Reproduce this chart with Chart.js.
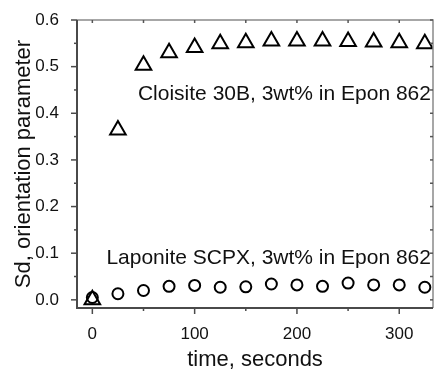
<!DOCTYPE html>
<html>
<head>
<meta charset="utf-8">
<script src="https://cdn.jsdelivr.net/npm/chart.js@4/dist/chart.umd.min.js"></script>
<style>
  html, body { margin: 0; padding: 0; background: #fff; }
  #wrap { width: 435px; height: 369px; }
</style>
</head>
<body>
<div id="wrap"><canvas id="chart" width="435" height="369"></canvas></div>
<script>
// ----- data -----
const timeSeconds = [0, 25, 50, 75, 100, 125, 150, 175, 200, 225, 250, 275, 300, 325];
const cloisite = [0, 0.364, 0.503, 0.530, 0.541, 0.549, 0.551, 0.555, 0.555, 0.555, 0.554, 0.553, 0.551, 0.549];
const laponite = [0.005, 0.013, 0.020, 0.029, 0.031, 0.027, 0.028, 0.034, 0.032, 0.029, 0.036, 0.032, 0.032, 0.027];

const xTicks = [0, 100, 200, 300];
const xMinorTicks = [50, 150, 250];
const yTicks = [0.0, 0.1, 0.2, 0.3, 0.4, 0.5, 0.6];
const yMinorTicks = [0.05, 0.15, 0.25, 0.35, 0.45, 0.55];

const cloisiteLabel = 'Cloisite 30B, 3wt% in Epon 862';
const laponiteLabel = 'Laponite SCPX, 3wt% in Epon 862';

const FONT = '"Liberation Sans", Arial, sans-serif';

function pairs(xs, ys) {
  return xs.map((x, i) => ({ x: x, y: ys[i] }));
}

// frame, ticks (major + minor, top/right inward) and the two text labels
const framePlugin = {
  id: 'frame',
  afterDraw(chart) {
    const ctx = chart.ctx;
    const a = chart.chartArea;
    const xs = chart.scales.x;
    const ys = chart.scales.y;
    ctx.save();

    // top + right (light)
    ctx.strokeStyle = '#8a8a8a';
    ctx.lineWidth = 1.5;
    ctx.beginPath();
    ctx.moveTo(a.left, a.top);
    ctx.lineTo(a.right, a.top);
    ctx.lineTo(a.right, a.bottom);
    ctx.stroke();

    // inward ticks top & right
    ctx.lineWidth = 1.5;
    ctx.strokeStyle = '#555';
    xTicks.concat(xMinorTicks).forEach(v => {
      const px = xs.getPixelForValue(v);
      ctx.beginPath(); ctx.moveTo(px, a.top); ctx.lineTo(px, a.top + 3); ctx.stroke();
    });
    yTicks.concat(yMinorTicks).forEach(v => {
      const py = ys.getPixelForValue(v);
      ctx.beginPath(); ctx.moveTo(a.right, py); ctx.lineTo(a.right - 3, py); ctx.stroke();
    });

    // left + bottom (dark)
    ctx.strokeStyle = '#4a4a4a';
    ctx.lineWidth = 2;
    ctx.beginPath();
    ctx.moveTo(a.left, a.top);
    ctx.lineTo(a.left, a.bottom);
    ctx.lineTo(a.right, a.bottom);
    ctx.stroke();

    ctx.lineWidth = 1.5;
    xTicks.forEach(v => {
      const px = xs.getPixelForValue(v);
      ctx.beginPath(); ctx.moveTo(px, a.bottom); ctx.lineTo(px, a.bottom + 6); ctx.stroke();
    });
    xMinorTicks.forEach(v => {
      const px = xs.getPixelForValue(v);
      ctx.beginPath(); ctx.moveTo(px, a.bottom); ctx.lineTo(px, a.bottom + 3); ctx.stroke();
    });
    yTicks.forEach(v => {
      const py = ys.getPixelForValue(v);
      ctx.beginPath(); ctx.moveTo(a.left, py); ctx.lineTo(a.left - 6, py); ctx.stroke();
    });
    yMinorTicks.forEach(v => {
      const py = ys.getPixelForValue(v);
      ctx.beginPath(); ctx.moveTo(a.left, py); ctx.lineTo(a.left - 3, py); ctx.stroke();
    });

    // series labels
    ctx.fillStyle = '#111';
    ctx.font = '21px ' + FONT;
    ctx.textAlign = 'right';
    ctx.textBaseline = 'middle';
    ctx.fillText(cloisiteLabel, xs.getPixelForValue(331), ys.getPixelForValue(0.44));
    ctx.fillText(laponiteLabel, xs.getPixelForValue(331), ys.getPixelForValue(0.09));

    ctx.restore();
  }
};

new Chart(document.getElementById('chart'), {
  type: 'scatter',
  data: {
    datasets: [
      {
        label: laponiteLabel,
        data: pairs(timeSeconds, laponite),
        pointStyle: 'circle',
        pointRadius: 5.5,
        borderWidth: 2,
        borderColor: '#000',
        backgroundColor: 'rgba(0,0,0,0)'
      },
      {
        label: cloisiteLabel,
        data: pairs(timeSeconds, cloisite),
        pointStyle: 'triangle',
        pointRadius: 9,
        borderWidth: 2,
        borderColor: '#000',
        backgroundColor: 'rgba(0,0,0,0)'
      }
    ]
  },
  options: {
    responsive: false,
    animation: false,
    layout: { autoPadding: false, padding: { top: 20, right: 2, left: 0, bottom: 0 } },
    plugins: {
      legend: { display: false },
      tooltip: { enabled: false }
    },
    scales: {
      x: {
        type: 'linear',
        min: -15,
        max: 333,
        grid: { display: false },
        border: { display: false },
        afterBuildTicks: s => { s.ticks = xTicks.map(v => ({ value: v })); },
        afterFit: s => { s.height = 61; s.paddingLeft = 0; s.paddingRight = 0; },
        ticks: {
          padding: 8,
          color: '#111',
          font: { family: FONT, size: 17 },
          maxRotation: 0
        },
        title: {
          display: true,
          text: 'time, seconds',
          color: '#111',
          font: { family: FONT, size: 22 },
          padding: { top: 0, bottom: -4 }
        }
      },
      y: {
        type: 'linear',
        min: -0.0175,
        max: 0.6,
        grid: { display: false },
        border: { display: false },
        afterBuildTicks: s => { s.ticks = yTicks.map(v => ({ value: v })); },
        afterFit: s => { s.width = 77; s.paddingTop = 0; s.paddingBottom = 0; },
        ticks: {
          padding: 10,
          color: '#111',
          font: { family: FONT, size: 17 },
          callback: v => v.toFixed(1)
        },
        title: {
          display: true,
          text: 'Sd, orientation parameter',
          color: '#111',
          font: { family: FONT, size: 22 },
          padding: { top: 11, bottom: 0 }
        }
      }
    }
  },
  plugins: [framePlugin]
});
</script>
</body>
</html>
